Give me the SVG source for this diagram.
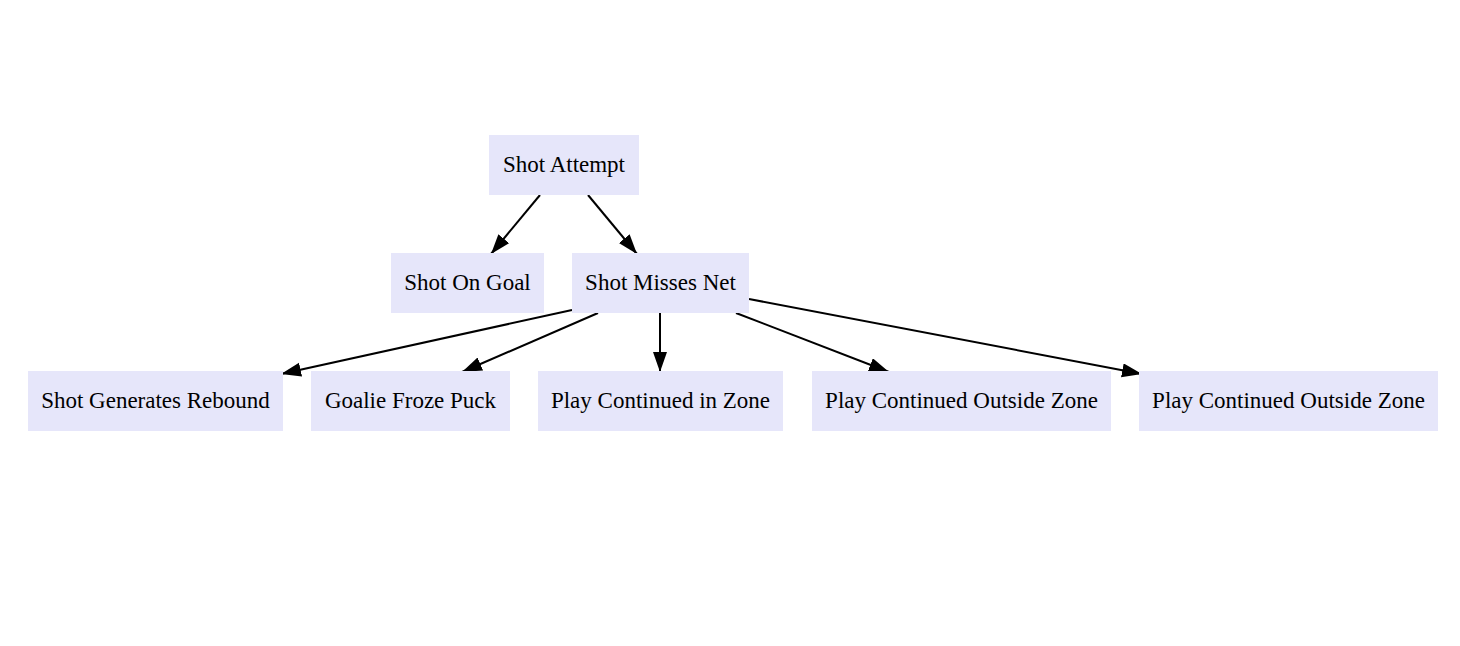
<svg xmlns="http://www.w3.org/2000/svg" width="1460" height="646" viewBox="0 0 1460 646">
<style>
.node rect{fill:#e6e6fa;stroke:none}
.node text{font-family:"Liberation Serif","Times New Roman",serif;font-size:23px;fill:#000;text-anchor:middle}
.edges path{fill:none;stroke:#000;stroke-width:2}
</style>
<defs>
<marker id="ah" markerUnits="userSpaceOnUse" markerWidth="22" markerHeight="16" refX="20" refY="7" orient="auto">
<path d="M0,0 L20,7 L0,14 z" fill="#000"/>
</marker>
</defs>
<rect width="1460" height="646" fill="#fff"/>
<g class="edges">
<path d="M540,195 L491,254" marker-end="url(#ah)"/>
<path d="M588,195 L637,254" marker-end="url(#ah)"/>
<path d="M572,310 L281,374" marker-end="url(#ah)"/>
<path d="M598,313 L462,372" marker-end="url(#ah)"/>
<path d="M660,313 L660,372" marker-end="url(#ah)"/>
<path d="M736,313 L889,372" marker-end="url(#ah)"/>
<path d="M749,299 L1142,374" marker-end="url(#ah)"/>
</g>
<g id="shot_attempt" class="node"><rect x="489" y="135" width="150" height="60"/><text x="564" y="172">Shot Attempt</text></g>
<g id="shot_on_goal" class="node"><rect x="391" y="253" width="153" height="60"/><text x="467.5" y="290">Shot On Goal</text></g>
<g id="shot_misses_net" class="node"><rect x="572" y="253" width="177" height="60"/><text x="660.5" y="290">Shot Misses Net</text></g>
<g id="rebound" class="node"><rect x="28" y="371" width="255" height="60"/><text x="155.5" y="408">Shot Generates Rebound</text></g>
<g id="goalie_froze" class="node"><rect x="311" y="371" width="199" height="60"/><text x="410.5" y="408">Goalie Froze Puck</text></g>
<g id="play_in_zone" class="node"><rect x="538" y="371" width="245" height="60"/><text x="660.5" y="408">Play Continued in Zone</text></g>
<g id="play_outside_1" class="node"><rect x="812" y="371" width="299" height="60"/><text x="961.5" y="408">Play Continued Outside Zone</text></g>
<g id="play_outside_2" class="node"><rect x="1139" y="371" width="299" height="60"/><text x="1288.5" y="408">Play Continued Outside Zone</text></g>
</svg>
